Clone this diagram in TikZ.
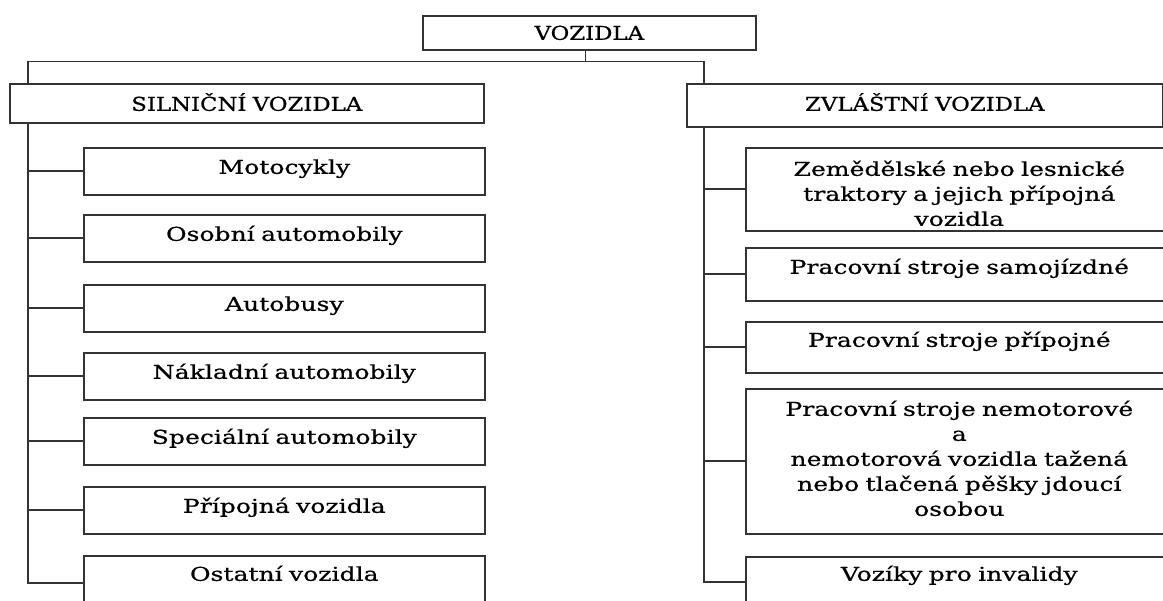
\documentclass[tikz,border=0pt]{standalone}
\usepackage{fontspec}
\setmainfont{DejaVu Serif}[FakeStretch=1.32,FakeBold=0.7]
\newfontfamily\headfont{DejaVu Serif}[FakeStretch=1.2,FakeBold=0.7]

\begin{document}
\begin{tikzpicture}[x=1pt,y=-1pt,
    box/.style={draw=black!80, line width=1.6pt, anchor=north west, inner sep=0pt, align=center, text=black, font=\fontsize{19}{25}\selectfont},
    head/.style={box, font=\headfont\fontsize{19}{25}\selectfont},
    left kid/.style={box, text width=401pt, text height=26pt, text depth=21pt},
    right kid/.style={box, text width=427pt},
    link/.style={draw=black!80, line width=1.6pt}]

            \useasboundingbox (0,0) rectangle (1163,601);
            \clip (0,0) rectangle (1163,601);

            \node[head, text width=333pt, text height=24pt, text depth=10pt] (vozidla) at (422,15) {VOZIDLA};
            \node[head, text width=474pt, text height=27pt, text depth=12pt] (silnicni) at (9,83) {SILNIČNÍ VOZIDLA};
            \node[head, text width=476pt, text height=27pt, text depth=16pt] (zvlastni) at (686,83) {ZVLÁŠTNÍ VOZIDLA};

            \node[left kid] (moto) at (83,147) {Motocykly};
            \node[left kid] (osobni) at (83,214) {Osobní automobily};
            \node[left kid] (autobus) at (83,284) {Autobusy};
            \node[left kid] (nakladni) at (83,352) {Nákladní automobily};
            \node[left kid] (specialni) at (83,417) {Speciální automobily};
            \node[left kid] (pripojna) at (83,486) {Přípojná vozidla};
            \node[left kid, text height=25pt, text depth=29pt] (ostatni) at (83,555) {Ostatní vozidla};

            \node[right kid, text height=28pt, text depth=55pt] (traktory) at (745,147) {Zemědělské nebo lesnické\\ traktory a jejich přípojná\\ vozidla};
            \node[right kid, text height=26pt, text depth=27pt] (samojizdne) at (745,247) {Pracovní stroje samojízdné};
            \node[right kid, text height=25pt, text depth=26pt] (pripojne) at (745,321) {Pracovní stroje přípojné};
            \node[right kid, text height=27pt, text depth=118pt] (nemotorove) at (745,388) {Pracovní stroje nemotorové\\ a\\ nemotorová vozidla tažená\\ nebo tlačená pěšky jdoucí\\ osobou};
            \node[right kid, text height=24pt, text depth=26pt] (voziky) at (745,556) {Vozíky pro invalidy};

            \draw[link] ([xshift=-4pt]vozidla.south) -- ++(0,11) coordinate (fork);
            \draw[link] (fork) -| ([xshift=19pt]silnicni.north west);
            \draw[link] (fork) -| ([xshift=18pt]zvlastni.north west);

            \foreach \k in {moto,osobni,autobus,nakladni,specialni,pripojna,ostatni}
                \draw[link] ([xshift=19pt]silnicni.south west) |- (\k.west);
            \foreach \k in {traktory,samojizdne,pripojne,nemotorove,voziky}
                \draw[link] ([xshift=18pt]zvlastni.south west) |- (\k.west);

            ;
        \end{tikzpicture}
\end{document}
